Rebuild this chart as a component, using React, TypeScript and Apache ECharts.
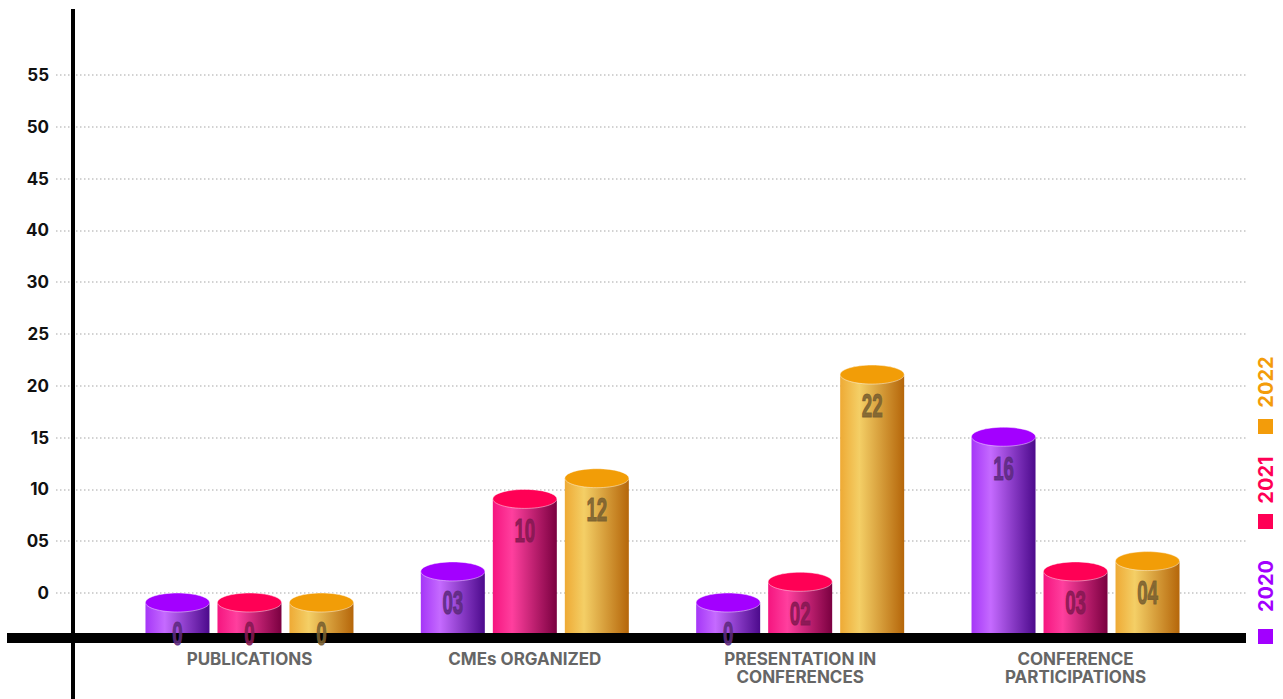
import React, { useEffect, useRef } from "react";
import * as echarts from "echarts";

const CATEGORIES = ["PUBLICATIONS", "CMEs ORGANIZED", "PRESENTATION IN\nCONFERENCES", "CONFERENCE\nPARTICIPATIONS"];
const YEARS = ["2020", "2021", "2022"];
const VALUES_2020 = [0, 3, 0, 16];
const VALUES_2021 = [0, 10, 2, 3];
const VALUES_2022 = [0, 12, 22, 4];
const LABELS_2020 = ["0", "03", "0", "16"];
const LABELS_2021 = ["0", "10", "02", "03"];
const LABELS_2022 = ["0", "12", "22", "04"];
const Y_TICK_LABELS = ["0", "05", "10", "15", "20", "25", "30", "40", "45", "50", "55"];

const SERIES_VALUES = [VALUES_2020, VALUES_2021, VALUES_2022];
const SERIES_LABELS = [LABELS_2020, LABELS_2021, LABELS_2022];

const TOP_COLORS = ["#a300ff", "#ff0055", "#f29d07"];
const BODY_STOPS = [
  ["#a536f7", "#c56aff", "#4c0a8c"],
  ["#f5157f", "#ff3f9e", "#7a0040"],
  ["#eeaa35", "#f4cf66", "#b5660a"],
];
const LABEL_COLORS = ["#5e2a80", "#861852", "#7a6030"];
const LEGEND_COLORS = ["#a200ff", "#ff0055", "#f39c0a"];

const BAR_AXIS_MIN = -3.86;
const BAR_W = 64;
const BAR_STEP = 72;

export default function App() {
  const ref = useRef<HTMLDivElement>(null);
  useEffect(() => {
    if (!ref.current) return;
    const chart = echarts.init(ref.current, null, { renderer: "svg" });

    const series = YEARS.map((year, si) => ({
      type: "custom",
      name: year,
      xAxisIndex: 1,
      yAxisIndex: 1,
      z: 3,
      data: SERIES_VALUES[si].map((v, i) => [i, v]),
      renderItem: (params: any, api: any) => {
        const idx = api.value(0);
        const v = api.value(1);
        const [cx0, yTop] = api.coord([idx, v]);
        const [, yBase] = api.coord([idx, BAR_AXIS_MIN]);
        const cx = cx0 + (si - 1) * BAR_STEP;
        const rx = BAR_W / 2;
        const ry = 9.5;
        const ec = yTop + ry;
        const stops = BODY_STOPS[si];
        return {
          type: "group",
          children: [
            {
              type: "rect",
              shape: { x: cx - rx, y: ec, width: BAR_W, height: yBase - ec },
              style: {
                fill: new echarts.graphic.LinearGradient(0, 0, 1, 0, [
                  { offset: 0, color: stops[0] },
                  { offset: 0.3, color: stops[1] },
                  { offset: 1, color: stops[2] },
                ]),
              },
            },
            {
              type: "ellipse",
              shape: { cx, cy: ec, rx, ry },
              style: { fill: TOP_COLORS[si], stroke: "rgba(255,255,255,0.45)", lineWidth: 1 },
            },
            {
              type: "text",
              x: cx,
              y: ec + 31,
              scaleX: 0.55,
              style: {
                text: SERIES_LABELS[si][params.dataIndex],
                fontSize: 34,
                fontWeight: "bold",
                fontFamily: "Liberation Sans",
                fill: LABEL_COLORS[si],
                stroke: LABEL_COLORS[si],
                lineWidth: 1.2,
                opacity: 0.9,
                align: "center",
                verticalAlign: "middle",
              },
            },
          ],
        };
      },
    }));

    const legendGraphics: any[] = [];
    const legendSquareY = [629, 514, 419];
    const legendTextY = [586, 480, 382];
    YEARS.forEach((y, i) => {
      legendGraphics.push({
        type: "rect",
        shape: { x: 1258, y: legendSquareY[i], width: 15, height: 15 },
        style: { fill: LEGEND_COLORS[i] },
      });
      legendGraphics.push({
        type: "text",
        x: 1266,
        y: legendTextY[i],
        rotation: Math.PI / 2,
        style: {
          text: y,
          fontSize: 20,
          fontWeight: "bold",
          fontFamily: "Inter",
          fill: LEGEND_COLORS[i],
          align: "center",
          verticalAlign: "middle",
        },
      });
    });

    chart.setOption({
      animation: false,
      grid: [
        { left: 56, right: 37, top: 75, bottom: 54.2 },
        { left: 111.8, right: 69.8, top: 75, bottom: 66 },
      ],
      xAxis: [
        { type: "value", gridIndex: 0, show: false, min: 0, max: 1 },
        {
          type: "category",
          gridIndex: 1,
          data: CATEGORIES,
          axisLine: { show: false },
          axisTick: { show: false },
          axisLabel: {
            margin: 17,
            fontFamily: "Inter",
            fontWeight: "bold",
            fontSize: 17,
            lineHeight: 18,
            color: "#666666",
            interval: 0,
          },
        },
      ],
      yAxis: [
        {
          type: "value",
          gridIndex: 0,
          min: -5,
          max: 50,
          interval: 5,
          axisLine: { show: false },
          axisTick: { show: false },
          axisLabel: {
            margin: 7,
            fontFamily: "Inter",
            fontWeight: "bold",
            fontSize: 17,
            color: "#111111",
            formatter: (v: number) => {
              const k = Math.round(v / 5);
              return k >= 0 && k < Y_TICK_LABELS.length ? Y_TICK_LABELS[k] : "";
            },
          },
          splitLine: {
            show: true,
            showMinLine: false,
            lineStyle: { color: "#c4c4c4", type: [1.5, 2.5], width: 1.5 },
          },
        },
        {
          type: "value",
          gridIndex: 1,
          min: BAR_AXIS_MIN,
          max: 50,
          show: false,
          splitLine: { show: false },
        },
      ],
      series,
      graphic: [
        { type: "rect", z: 1, shape: { x: 7, y: 633, width: 1239, height: 10 }, style: { fill: "#000000" } },
        { type: "rect", z: 10, shape: { x: 71, y: 9, width: 4, height: 690 }, style: { fill: "#000000" } },
        ...legendGraphics,
      ],
    });
    return () => chart.dispose();
  }, []);
  return (
    <div
      ref={ref}
      style={{ position: "fixed", left: 0, top: 0, width: 1283, height: 699, background: "#ffffff" }}
    />
  );
}
